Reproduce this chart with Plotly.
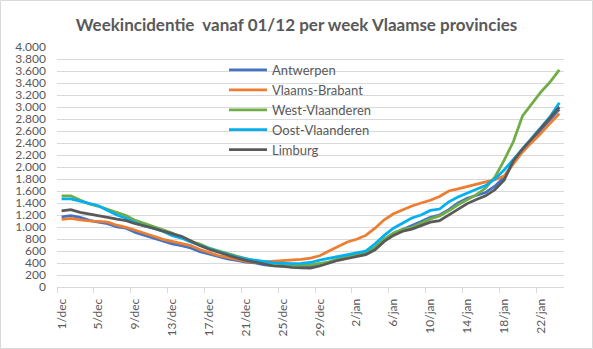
import plotly.graph_objects as go

# Categories: daily dates 1/dec .. 24/jan
dates = [f"{d}/dec" for d in range(1, 32)] + [f"{d}/jan" for d in range(1, 25)]

antwerpen = [1170, 1190, 1160, 1110, 1080, 1055, 1000, 980, 910, 860,
             815, 770, 718, 690, 650, 590, 550, 500, 470, 445,
             415, 400, 370, 355, 345, 340, 335, 340, 370, 410,
             455, 495, 525, 560, 650, 790, 890, 960, 1020, 1090,
             1160, 1200, 1290, 1400, 1480, 1525, 1575, 1680, 1830, 2080,
             2280, 2450, 2620, 2790, 2960]
vlaams_brabant = [1125, 1145, 1120, 1100, 1095, 1080, 1030, 995, 945, 900,
                  845, 795, 760, 735, 690, 625, 580, 525, 495, 460,
                  425, 410, 420, 435, 440, 445, 460, 482, 520, 600,
                  680, 750, 795, 860, 980, 1120, 1220, 1290, 1350, 1400,
                  1445, 1510, 1600, 1635, 1675, 1710, 1745, 1790, 1850, 2060,
                  2250, 2410, 2560, 2730, 2890]
west_vlaanderen = [1520, 1520, 1450, 1385, 1345, 1295, 1240, 1190, 1110, 1060,
                   1010, 955, 900, 820, 760, 715, 650, 605, 555, 515,
                   475, 435, 395, 370, 358, 352, 360, 369, 392, 420,
                   475, 510, 540, 570, 670, 800, 900, 960, 990, 1060,
                   1135, 1185, 1270, 1370, 1450, 1540, 1650, 1830, 2110, 2420,
                   2850, 3060, 3250, 3420, 3620]
oost_vlaanderen = [1470, 1470, 1430, 1395, 1355, 1275, 1200, 1145, 1070, 1017,
                   971, 930, 855, 815, 750, 690, 640, 590, 540, 500,
                   470, 445, 420, 402, 398, 390, 395, 409, 448, 480,
                   515, 545, 570, 600, 720, 860, 980, 1070, 1150, 1200,
                   1276, 1300, 1420, 1500, 1570, 1630, 1690, 1800, 1950, 2120,
                   2300, 2480, 2660, 2840, 3070]
limburg = [1270, 1290, 1245, 1220, 1190, 1160, 1130, 1105, 1055, 1020,
           980, 930, 885, 845, 770, 690, 630, 580, 530, 485,
           445, 410, 380, 350, 345, 325, 318, 313, 350, 400,
           445, 475, 505, 540, 620, 760, 860, 930, 965, 1020,
           1080, 1105, 1200, 1300, 1390, 1460, 1520, 1620, 1780, 2100,
           2300, 2470, 2650, 2830, 3000]

series = [
    ("Antwerpen", antwerpen, "#4472C4"),
    ("Vlaams-Brabant", vlaams_brabant, "#ED7D31"),
    ("West-Vlaanderen", west_vlaanderen, "#70AD47"),
    ("Oost-Vlaanderen", oost_vlaanderen, "#00B0F0"),
    ("Limburg", limburg, "#595959"),
]

tick_idx = list(range(0, len(dates), 4))
tick_text = [dates[i] for i in tick_idx]
x = list(range(len(dates)))

fig = go.Figure()
for name, vals, col in series:
    fig.add_trace(go.Scatter(x=x, y=vals, name=name, mode="lines",
                             line=dict(color=col, width=2.75)))

txt = "#595959"
W, H = 593, 349
ml, mr, mt, mb = 57, 29, 47, 62
pw, ph = W - ml - mr, H - mt - mb

fig.update_layout(
    width=W, height=H,
    margin=dict(l=ml, r=mr, t=mt, b=mb),
    paper_bgcolor="white", plot_bgcolor="white",
    separators=",.",
    font=dict(family="Lato, 'Liberation Sans', sans-serif", color=txt),
    title=dict(text="<b>Weekincidentie  vanaf 01/12 per week Vlaamse provincies</b>",
               x=0.5, xanchor="center", y=1 - 25 / H, yanchor="middle",
               font=dict(size=17, color=txt)),
    legend=dict(x=(224 - ml) / pw, y=(287 - 55) / ph,
                xanchor="left", yanchor="top", bgcolor="rgba(0,0,0,0)",
                itemwidth=38,
                font=dict(size=13, color=txt), tracegroupgap=0),
    showlegend=True,
)
fig.update_xaxes(
    range=[-0.5, len(dates) - 0.5],
    tickmode="array", tickvals=tick_idx, ticktext=tick_text,
    tickangle=-90, tickfont=dict(size=12, color=txt),
    ticks="", ticklabelstandoff=6,
    showgrid=False, zeroline=False,
    showline=True, linecolor="#D9D9D9", linewidth=1,
    minor=dict(ticks="outside", tick0=-0.5, dtick=4, ticklen=5,
               tickcolor="#D9D9D9", showgrid=False),
)
fig.update_yaxes(
    range=[0, 4000], dtick=200, tickformat=",d",
    tickfont=dict(size=12, color=txt),
    showgrid=True, gridcolor="#D9D9D9", gridwidth=1,
    zeroline=False, showline=False, ticks="", ticklabelstandoff=10,
)
# chart border
fig.add_shape(type="rect", xref="paper", yref="paper",
              x0=(0.5 - ml) / pw, x1=(W - 0.5 - ml) / pw,
              y0=-(mb - 0.5) / ph, y1=1 + (mt - 0.5) / ph,
              line=dict(color="#D9D9D9", width=1), layer="below")

fig.write_html("out.html")
